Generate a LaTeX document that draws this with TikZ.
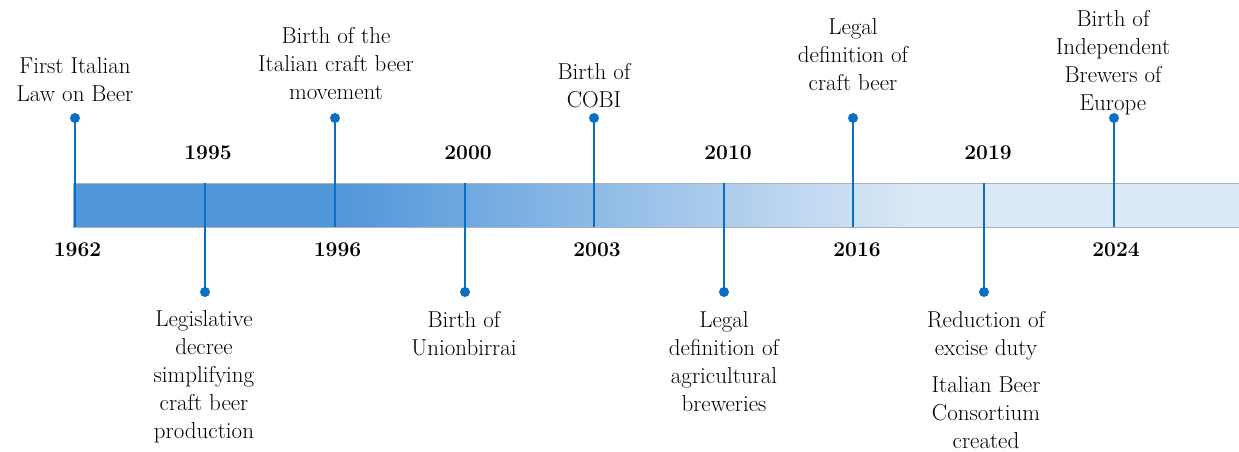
\documentclass[tikz,border=0pt]{standalone}
\definecolor{stemc}{RGB}{10,110,195}
\definecolor{barL}{RGB}{80,150,217}
\definecolor{barR}{RGB}{219,232,246}
\definecolor{barB}{RGB}{168,178,192}
\begin{document}
\begin{tikzpicture}[x=1pt,y=-1pt,
  lbl/.style={align=center, inner sep=0pt, font=\fontsize{23}{28}\selectfont},
  yr/.style={inner sep=0pt, font=\fontsize{21}{27}\selectfont\bfseries},
  stem/.style={draw=stemc, line width=2.8pt},
  dotc/.style={circle, fill=stemc, inner sep=0pt, minimum size=10pt}]
\useasboundingbox (0,0) rectangle (1239,452);
% bar
\fill[barL] (73,183) rectangle (335,227);
\shade[left color=barL, right color=barR] (334.5,183) rectangle (915.5,227);
\fill[barR] (915,183) rectangle (1239,227);
\draw[barB, line width=0.8pt] (1240,183) -- (73,183) -- (73,227) -- (1240,227);
% coordinates on bar
\foreach \n/\x in {a/75,c/335,e/594,g/853,i/1114}{\coordinate (b\n) at (\x,227);}
\foreach \n/\x in {b/205,d/465,f/724,h/984}{\coordinate (b\n) at (\x,183);}
% dots
\foreach \n/\x in {a/75,c/335,e/594,g/853,i/1114}{\node[dotc] (d\n) at (\x,118) {};}
\foreach \n/\x in {b/205,d/465,f/724,h/984}{\node[dotc] (d\n) at (\x,292) {};}
% stems
\foreach \n in {a,b,c,d,e,f,g,h,i}{\draw[stem] (d\n.center) -- (b\n);}
% years
\node[yr] (ya) at (77.5,250) {1962};
\node[yr] (yb) at (208,153) {1995};
\node[yr] (yc) at (337.5,250) {1996};
\node[yr] (yd) at (468,153) {2000};
\node[yr] (ye) at (597,250) {2003};
\node[yr] (yf) at (728,153) {2010};
\node[yr] (yg) at (857,250) {2016};
\node[yr] (yh) at (988,153) {2019};
\node[yr] (yi) at (1116,250) {2024};
% upper labels
\node[lbl] (la) at (75,80) {First Italian\\Law on Beer};
\node[lbl] (lc) at (336,64) {Birth of the\\Italian craft beer\\movement};
\node[lbl] (le) at (594,86) {Birth of\\COBI};
\node[lbl] (lg) at (853,55) {Legal\\definition of\\craft beer};
\node[lbl] (li) at (1113,63) {Birth of\\Independent\\Brewers of\\Europe};
% lower labels
\node[lbl] (lb) at (204,377) {Legislative\\decree\\simplifying\\craft beer\\production};
\node[lbl] (ld) at (464,334) {Birth of\\Unionbirrai};
\node[lbl] (lf) at (724,362) {Legal\\definition of\\agricultural\\breweries};
\node[lbl] (lh) at (986,336) {Reduction of\\excise duty};
\node[lbl] (lh2) at (986,413) {Italian Beer\\Consortium\\created};
\end{tikzpicture}
\end{document}
